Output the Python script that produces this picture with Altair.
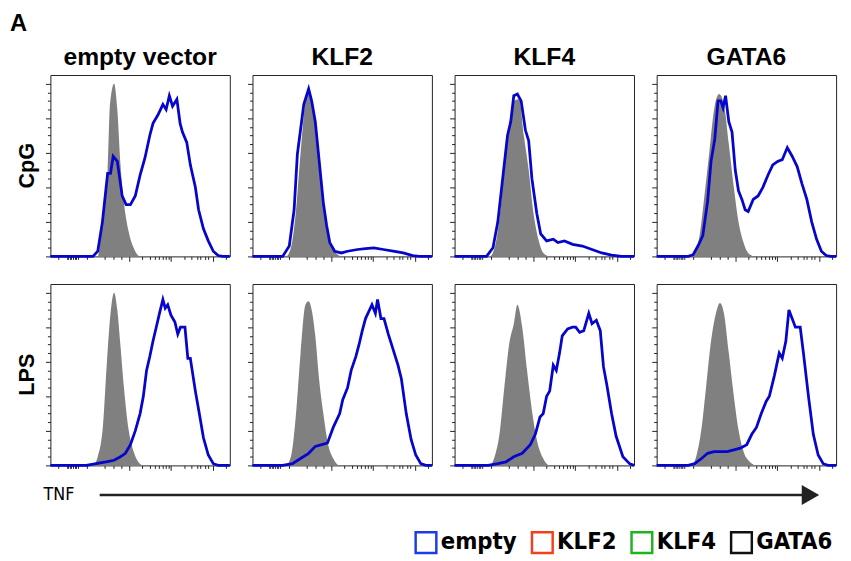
import altair as alt
import pandas as pd

COLUMNS = ["empty vector", "KLF2", "KLF4", "GATA6"]
ROWS = ["CpG", "LPS"]
CONSTRUCTS = ["empty", "KLF2", "KLF4", "GATA6"]
CONSTRUCT_COLORS = ["#1c3ce6", "#f2401e", "#1fb31f", "#111111"]

Y_MAJOR = [0, 20, 40, 60, 80, 100]
Y_MINOR = [5, 10, 15, 25, 30, 35, 45, 50, 55, 65, 70, 75, 85, 90, 95]
X_MAJOR = [0.44, 0.672, 0.908]
X_MINOR = [0.042, 0.092, 0.1, 0.109, 0.118, 0.127, 0.136, 0.145, 0.155, 0.205,
           0.30, 0.35, 0.397, 0.51, 0.554, 0.58, 0.603, 0.627, 0.645, 0.657,
           0.745, 0.786, 0.817, 0.835, 0.862, 0.88, 0.976]

# (x fraction of TNF display axis, % of max) -- gray = unstimulated control, blue = stimulated
CPG_EMPTY_GRAY = [(0.0, 0), (0.264, 0), (0.29, 23), (0.319, 50), (0.332, 88), (0.355, 100),
                  (0.373, 85), (0.39, 54), (0.41, 31), (0.437, 14), (0.464, 5), (0.5, 0), (1.0, 0)]
CPG_EMPTY_BLUE = [(0.0, 0), (0.237, 0), (0.264, 3), (0.29, 20), (0.319, 48), (0.335, 48),
                  (0.35, 58), (0.373, 55), (0.4, 35), (0.422, 30), (0.446, 30), (0.473, 35),
                  (0.5, 47), (0.527, 57), (0.554, 70), (0.572, 77), (0.6, 82), (0.627, 88),
                  (0.645, 85), (0.663, 93), (0.681, 87), (0.705, 91), (0.723, 77), (0.736, 72),
                  (0.76, 66), (0.78, 53), (0.808, 40), (0.826, 27), (0.853, 16), (0.88, 9),
                  (0.908, 3), (0.935, 0.5), (0.96, 0), (1.0, 0)]
CPG_KLF2_GRAY = [(0.0, 0), (0.187, 0), (0.214, 5), (0.241, 25), (0.268, 60), (0.295, 90),
                 (0.313, 97), (0.34, 85), (0.368, 62), (0.395, 30), (0.422, 12), (0.45, 4),
                 (0.476, 1), (0.5, 0), (1.0, 0)]
CPG_KLF2_BLUE = [(0.0, 0), (0.168, 0), (0.205, 6), (0.232, 27), (0.25, 59), (0.286, 88),
                 (0.313, 97), (0.33, 90), (0.35, 78), (0.371, 56), (0.395, 31), (0.413, 18),
                 (0.431, 8), (0.458, 3), (0.495, 2), (0.53, 3), (0.585, 4), (0.63, 4.5),
                 (0.676, 5), (0.73, 4), (0.784, 3), (0.84, 2), (0.893, 0.5), (0.93, 0), (1.0, 0)]
CPG_KLF4_GRAY = [(0.0, 0), (0.196, 0), (0.223, 5), (0.25, 22), (0.277, 50), (0.304, 75),
                 (0.33, 90), (0.36, 91), (0.386, 70), (0.413, 50), (0.44, 25), (0.467, 10),
                 (0.495, 2), (0.53, 0), (1.0, 0)]
CPG_KLF4_BLUE = [(0.0, 0), (0.178, 0), (0.214, 5), (0.241, 20), (0.268, 45), (0.295, 70),
                 (0.313, 78), (0.33, 93), (0.35, 94), (0.371, 90), (0.395, 73), (0.413, 67),
                 (0.431, 45), (0.458, 25), (0.48, 13), (0.513, 9), (0.55, 10), (0.576, 8),
                 (0.612, 9), (0.658, 7), (0.712, 6), (0.766, 4), (0.82, 2), (0.875, 0.8),
                 (0.93, 0), (1.0, 0)]
CPG_GATA6_GRAY = [(0.0, 0), (0.19, 0), (0.212, 2), (0.239, 12), (0.266, 35), (0.293, 60),
                  (0.32, 85), (0.348, 94), (0.375, 88), (0.402, 65), (0.43, 40), (0.456, 20),
                  (0.484, 8), (0.51, 2), (0.547, 0), (1.0, 0)]
CPG_GATA6_BLUE = [(0.0, 0), (0.176, 0), (0.203, 1), (0.23, 6), (0.257, 12), (0.284, 32),
                  (0.303, 55), (0.324, 68), (0.342, 90), (0.357, 90), (0.37, 86), (0.384, 93),
                  (0.402, 78), (0.42, 72), (0.438, 50), (0.456, 38), (0.475, 33), (0.493, 27),
                  (0.51, 26), (0.538, 33), (0.565, 35), (0.592, 40), (0.62, 47), (0.647, 53),
                  (0.674, 55), (0.7, 56), (0.728, 63), (0.755, 58), (0.783, 52), (0.81, 42),
                  (0.837, 33), (0.864, 20), (0.891, 10), (0.918, 3), (0.945, 0.5), (0.97, 0),
                  (1.0, 0)]
LPS_EMPTY_GRAY = [(0.0, 0), (0.237, 0), (0.264, 5), (0.292, 22), (0.315, 60), (0.337, 90),
                  (0.355, 100), (0.373, 90), (0.39, 70), (0.41, 45), (0.437, 20), (0.464, 8),
                  (0.49, 2), (0.518, 0), (1.0, 0)]
LPS_EMPTY_BLUE = [(0.0, 0), (0.2, 0), (0.255, 1), (0.31, 2), (0.355, 3), (0.39, 5),
                  (0.418, 7), (0.446, 12), (0.473, 20), (0.5, 30), (0.518, 40), (0.536, 55),
                  (0.554, 63), (0.572, 72), (0.59, 80), (0.608, 88), (0.627, 96), (0.64, 91),
                  (0.654, 93), (0.672, 87), (0.694, 83), (0.71, 76), (0.725, 80), (0.75, 80),
                  (0.766, 62), (0.78, 62), (0.808, 43), (0.83, 30), (0.853, 16), (0.88, 6),
                  (0.908, 1), (0.935, 0), (1.0, 0)]
LPS_KLF2_GRAY = [(0.0, 0), (0.187, 0), (0.214, 5), (0.241, 28), (0.268, 65), (0.295, 93),
                 (0.313, 95), (0.33, 90), (0.35, 75), (0.371, 50), (0.395, 30), (0.422, 12),
                 (0.45, 4), (0.485, 0), (1.0, 0)]
LPS_KLF2_BLUE = [(0.0, 0), (0.168, 0), (0.223, 1), (0.268, 4), (0.313, 7), (0.35, 11),
                 (0.386, 12), (0.418, 13), (0.45, 22), (0.486, 30), (0.503, 38), (0.53, 45),
                 (0.55, 55), (0.576, 63), (0.594, 70), (0.612, 78), (0.63, 85), (0.648, 89),
                 (0.666, 93), (0.685, 88), (0.697, 96), (0.716, 85), (0.733, 85), (0.757, 76),
                 (0.784, 67), (0.811, 58), (0.83, 50), (0.857, 30), (0.884, 15), (0.91, 6),
                 (0.938, 1), (0.966, 0), (1.0, 0)]
LPS_KLF4_GRAY = [(0.0, 0), (0.196, 0), (0.223, 5), (0.25, 18), (0.277, 45), (0.304, 70),
                 (0.33, 82), (0.35, 93), (0.377, 80), (0.404, 55), (0.431, 32), (0.458, 15),
                 (0.494, 4), (0.53, 0), (1.0, 0)]
LPS_KLF4_BLUE = [(0.0, 0), (0.187, 0), (0.241, 1), (0.286, 2), (0.33, 5), (0.377, 7),
                 (0.422, 12), (0.45, 18), (0.476, 28), (0.494, 30), (0.513, 40), (0.53, 43),
                 (0.55, 58), (0.567, 55), (0.585, 65), (0.6, 75), (0.63, 79), (0.657, 80),
                 (0.675, 80), (0.697, 77), (0.72, 78), (0.748, 88), (0.766, 82), (0.79, 84),
                 (0.812, 78), (0.83, 57), (0.848, 47), (0.875, 30), (0.9, 17), (0.938, 5),
                 (0.975, 1), (1.0, 0)]
LPS_GATA6_GRAY = [(0.0, 0), (0.194, 0), (0.22, 5), (0.248, 20), (0.275, 45), (0.303, 72),
                  (0.33, 88), (0.353, 94), (0.375, 88), (0.402, 65), (0.43, 40), (0.457, 20),
                  (0.484, 8), (0.52, 2), (0.556, 0), (1.0, 0)]
LPS_GATA6_BLUE = [(0.0, 0), (0.176, 0), (0.212, 1), (0.25, 4), (0.284, 7), (0.32, 8),
                  (0.357, 8), (0.393, 8), (0.43, 9), (0.466, 10), (0.502, 12), (0.53, 18),
                  (0.556, 22), (0.583, 30), (0.61, 37), (0.628, 40), (0.656, 52), (0.683, 65),
                  (0.7, 62), (0.72, 72), (0.737, 90), (0.755, 85), (0.773, 80), (0.8, 80),
                  (0.818, 65), (0.846, 40), (0.873, 18), (0.9, 6), (0.928, 1), (0.955, 0),
                  (1.0, 0)]

PANELS = [
    ("CpG", "empty vector", CPG_EMPTY_GRAY, CPG_EMPTY_BLUE),
    ("CpG", "KLF2", CPG_KLF2_GRAY, CPG_KLF2_BLUE),
    ("CpG", "KLF4", CPG_KLF4_GRAY, CPG_KLF4_BLUE),
    ("CpG", "GATA6", CPG_GATA6_GRAY, CPG_GATA6_BLUE),
    ("LPS", "empty vector", LPS_EMPTY_GRAY, LPS_EMPTY_BLUE),
    ("LPS", "KLF2", LPS_KLF2_GRAY, LPS_KLF2_BLUE),
    ("LPS", "KLF4", LPS_KLF4_GRAY, LPS_KLF4_BLUE),
    ("LPS", "GATA6", LPS_GATA6_GRAY, LPS_GATA6_BLUE),
]

rows = []
for stim, col, gray, blue in PANELS:
    for x, y in gray:
        rows.append({"stim": stim, "panel": col, "series": "control", "construct": "empty", "x": x, "y": y})
    for x, y in blue:
        rows.append({"stim": stim, "panel": col, "series": "stim", "construct": "empty", "x": x, "y": y})
df = pd.DataFrame(rows)

FONT = "Liberation Sans"
COND = "'DejaVu Sans Condensed', 'Liberation Sans', sans-serif"
W, H = 182, 184
GAP_X = 20

xscale = alt.Scale(domain=[0, 1], nice=False, zero=False)
yscale = alt.Scale(domain=[0, 105], nice=False, zero=True)

def ax(vals, size, orient):
    return alt.Axis(values=vals, tickSize=size, labels=False, domain=False, grid=False,
                    title=None, orient=orient, tickColor="#222", tickWidth=1,
                    minExtent=0, maxExtent=size, labelPadding=0)

area = alt.Chart().transform_filter(alt.datum.series == "control").mark_area(
    color="#808080", interpolate="monotone").encode(
    x=alt.X("x:Q", scale=xscale, axis=ax(X_MAJOR, 5, "bottom")),
    y=alt.Y("y:Q", scale=yscale, axis=ax(Y_MAJOR, 5, "left")),
)
line = alt.Chart().transform_filter(alt.datum.series == "stim").mark_line(
    strokeWidth=2.8, interpolate="linear", color="#0505cc").encode(
    x=alt.X("x:Q", scale=xscale, axis=ax(X_MINOR, 3, "bottom")),
    y=alt.Y("y:Q", scale=yscale, axis=ax(Y_MINOR, 3, "left")),
)
# invisible layer that carries the construct colour key (legend)
key = alt.Chart().transform_filter(alt.datum.series == "stim").mark_point(
    shape="square", filled=False, opacity=0).encode(
    x=alt.X("x:Q", scale=xscale, axis=None),
    y=alt.Y("y:Q", scale=yscale, axis=None),
    color=alt.Color("construct:N", scale=alt.Scale(domain=CONSTRUCTS, range=CONSTRUCT_COLORS),
                    legend=alt.Legend(title=None, orient="none", legendX=369, legendY=462,
                                      direction="horizontal", symbolType="square",
                                      symbolSize=441, symbolStrokeWidth=2.5, symbolOpacity=1,
                                      symbolFillColor="white", labelFontSize=24,
                                      labelFont=COND, labelFontWeight="bold",
                                      labelColor="#000", columnPadding=9, labelOffset=3,
                                      padding=0)),
)

panel = alt.layer(area, line, key, data=df).resolve_axis(
    x="independent", y="independent").properties(width=W, height=H)

grid = panel.facet(
    row=alt.Row("stim:N", sort=ROWS, header=alt.Header(
        title=None, labelAngle=-90, labelOrient="left", labelFontSize=22, labelFont=FONT,
        labelFontWeight="bold", labelPadding=5, labelBaseline="top", labelColor="#000")),
    column=alt.Column("panel:N", sort=COLUMNS, header=alt.Header(
        title=None, labelFontSize=25, labelFont=FONT, labelFontWeight="bold",
        labelPadding=4, labelColor="#000")),
    spacing={"row": 20, "column": 9},
).resolve_scale(x="independent", y="independent")

TOTAL_W = 4 * W + 3 * GAP_X
strip_df = pd.DataFrame({"label": ["TNF"]})
tnf = alt.Chart(strip_df).mark_text(font=COND, fontSize=18, align="left", baseline="middle",
                                    color="#000").encode(
    x=alt.value(-7), y=alt.value(19), text="label:N")
arrow = alt.Chart(strip_df).mark_rule(color="#222", strokeWidth=2.5).encode(
    x=alt.value(50), x2=alt.value(765), y=alt.value(19))
head = alt.Chart(strip_df).mark_point(shape="triangle-right", size=420, filled=True,
                                      color="#222", opacity=1).encode(
    x=alt.value(771), y=alt.value(19))
strip = alt.layer(tnf, arrow, head).properties(
    width=TOTAL_W, height=40, view=alt.ViewBackground(stroke=None))

chart = alt.vconcat(grid, strip, spacing=4).properties(
    title=alt.TitleParams("A", anchor="start", fontSize=24, font=FONT, fontWeight="bold",
                          color="#000", offset=10, dx=-6),
    padding={"left": 2, "top": 0, "right": 0, "bottom": 0},
).configure_view(stroke="#222", strokeWidth=1)

chart.save("out.html", embed_options={"renderer": "svg", "actions": False})
